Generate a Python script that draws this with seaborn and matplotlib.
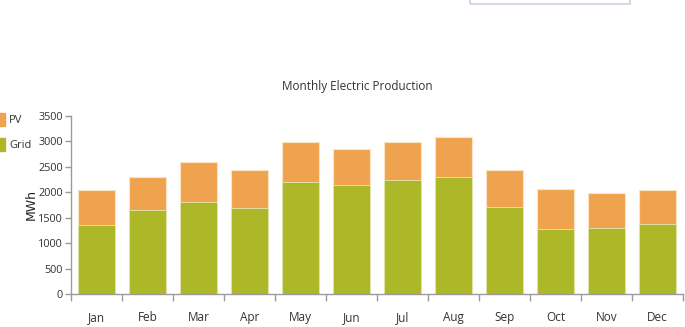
import pandas as pd
import matplotlib.pyplot as plt
import matplotlib.patches as mpatches
import seaborn as sns

sns.set_theme(style="white")
plt.rcParams["font.family"] = ["Open Sans", "DejaVu Sans"]

# Data (MWh)
months = ["Jan", "Feb", "Mar", "Apr", "May", "Jun",
          "Jul", "Aug", "Sep", "Oct", "Nov", "Dec"]
grid = [1350, 1640, 1800, 1680, 2200, 2140, 2240, 2300, 1700, 1280, 1290, 1380]
pv = [690, 650, 800, 760, 780, 710, 740, 780, 740, 780, 700, 660]

orange = "#F0A34E"
green = "#ADB828"

df = pd.DataFrame({"month": months, "grid": grid, "pv": pv})
df["total"] = df["grid"] + df["pv"]

fig = plt.figure(figsize=(6.85, 3.27), dpi=100)
ax = fig.add_axes([71 / 685, 33 / 327, 612 / 685, 178.3 / 327])

# stacked bars: total in orange, grid on top of it in green
sns.barplot(data=df, x="month", y="total", color=orange, width=0.71,
            saturation=1, edgecolor="#fbe3c4", linewidth=0.8, ax=ax)
sns.barplot(data=df, x="month", y="grid", color=green, width=0.71,
            saturation=1, edgecolor="#e3e8b0", linewidth=0.6, ax=ax)

ax.set_xlim(-0.5, 11.5)
ax.set_ylim(0, 3500)
ax.set_yticks(range(0, 3501, 500))
ax.set_xlabel("")
ax.set_ylabel("MWh", fontsize=9, color="#222222", family=["DejaVu Sans"])
ax.yaxis.set_label_coords(-33 / 612, 0.5)

for s in ["top", "right"]:
    ax.spines[s].set_visible(False)
for s in ["left", "bottom"]:
    ax.spines[s].set_color("#9a9a9a")
    ax.spines[s].set_linewidth(1.0)

# tick marks between categories, labels centred under the bars
ax.set_xticks([i - 0.5 for i in range(13)], minor=True)
ax.tick_params(axis="x", which="major", length=0, pad=12, labelsize=8.5,
               labelcolor="#333333")
ax.tick_params(axis="x", which="minor", length=5, width=1, color="#9a9a9a",
               direction="out", bottom=True)
ax.tick_params(axis="y", length=4, width=1, color="#9a9a9a", direction="out",
               left=True, labelsize=7.8, labelcolor="#333333", pad=2)

fig.text(0.521, 1 - 86 / 327, "Monthly Electric Production",
         ha="center", va="center", fontsize=8.5, color="#333333")

handles = [mpatches.Patch(color=orange, label="PV"),
           mpatches.Patch(color=green, label="Grid")]
fig.legend(handles=handles, loc="upper left", bbox_to_anchor=(-0.018, 1 - 103 / 327),
           frameon=False, fontsize=8, handlelength=0.7, handleheight=1.4,
           handletextpad=0.35, labelspacing=1.1, labelcolor="#333333")

# partial UI box visible at the top edge
fig.patches.append(mpatches.Rectangle((470 / 685, 1 - 4 / 327), 160 / 685, 0.2,
                                      transform=fig.transFigure, fill=False,
                                      edgecolor="#c9d3e3", linewidth=1.2))

fig.savefig("out.png", dpi=100)
